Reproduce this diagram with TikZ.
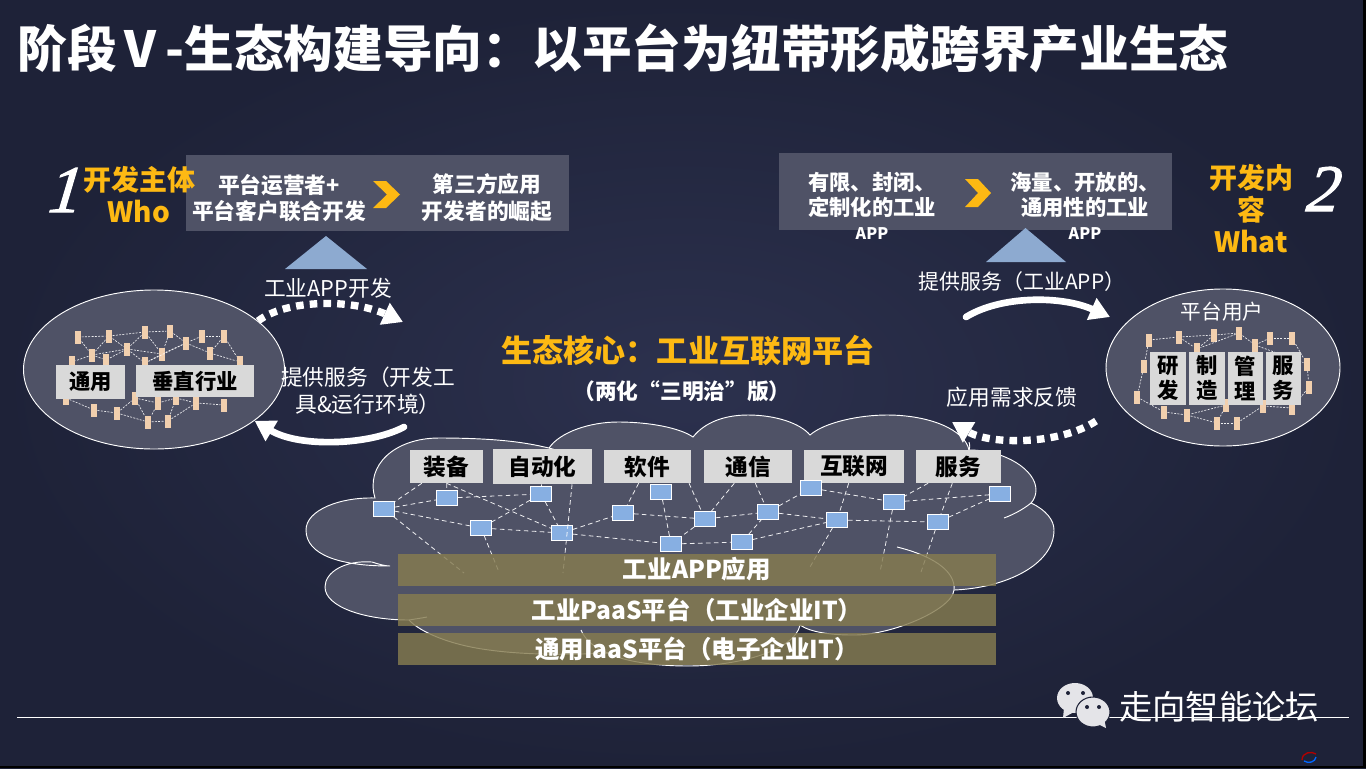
\documentclass[tikz,border=0pt]{standalone}
\usepackage{xcolor}
\usepackage{fontspec}
\usepackage{tikz}
\usetikzlibrary{arrows.meta}
\usetikzlibrary{shapes.geometric}
\newfontfamily\cjk{Noto Sans CJK SC}
\newfontfamily\numfont[ItalicFeatures={FakeBold=1.6,FakeSlant=0.12}]{Liberation Serif}
\definecolor{bgInner}{RGB}{44,49,78}
\definecolor{bgOuter}{RGB}{30,34,56}
\definecolor{panelGray}{RGB}{79,82,102}
\definecolor{labelGray}{RGB}{217,217,217}
\definecolor{goldText}{RGB}{253,185,19}
\definecolor{skyBlue}{RGB}{141,170,208}
\definecolor{routerBlue}{RGB}{135,175,226}
\definecolor{tanNode}{RGB}{241,207,174}
\definecolor{oliveBar}{RGB}{134,124,80}
\definecolor{iconGray}{RGB}{228,228,232}
\tikzset{
  bodyText/.style={inner sep=0.75pt,align=center,text=white,font=\cjk\fontsize{16.3}{20}\selectfont},
  boldText/.style={bodyText,font=\cjk\bfseries\fontsize{16.3}{20}\selectfont},
  goldHead/.style={inner sep=0.75pt,align=center,text=goldText,font=\cjk\bfseries\fontsize{21}{24}\selectfont},
  bigNumber/.style={inner sep=0pt,text=white,font=\numfont\itshape\fontsize{50}{50}\selectfont},
  panelBox/.style={draw=none,fill=panelGray,inner sep=0pt},
  grayLabel/.style={fill=labelGray,inner sep=0pt,text=black,align=center,font=\cjk\bfseries\fontsize{16}{18.75}\selectfont},
  cloudLabel/.style={grayLabel,minimum height=33*0.75pt,font=\cjk\bfseries\fontsize{17}{20}\selectfont},
  layerBar/.style={fill=oliveBar,fill opacity=0.82,text opacity=1,minimum width=598*0.75pt,minimum height=32*0.75pt,inner sep=0pt,text=white,font=\cjk\bfseries\fontsize{18.4}{20}\selectfont},
  router/.style={draw=white,line width=0.5pt,fill=routerBlue,minimum width=21*0.75pt,minimum height=15*0.75pt,inner sep=0pt},
  tanCell/.style={fill=tanNode,minimum width=6.5*0.75pt,minimum height=13*0.75pt,inner sep=0pt},
  orgDisc/.style={ellipse,draw=white,line width=0.7pt,fill=panelGray,inner sep=0pt},
  wireLink/.style={draw=white,line width=0.6pt,dash pattern={on 3.5pt off 2.5pt},opacity=0.9},
  cellLink/.style={draw=white,line width=0.5pt,dash pattern={on 1.5pt off 1pt},opacity=0.9},
  flowSolid/.style={draw=white,line width=5pt,line cap=round,-{Triangle[length=15pt,width=17pt]}},
  flowDots/.style={draw=white,line width=5.5pt,dash pattern={on 5.7pt off 4.6pt},-{Triangle[length=15pt,width=17pt]}},
}

\begin{document}
\begin{tikzpicture}[x=0.75pt,y=0.75pt,yscale=-1,xscale=1]
\useasboundingbox (0,0) rectangle (1366,768);

%Background
\shade [inner color=bgInner,outer color=bgOuter] (0,0) rectangle (1366,768);
\fill [black] (0,766) rectangle (1366,768);
\fill [black] (1363,0) rectangle (1366,768);

%Bottom Line
\draw [white,line width=0.6pt] (17,717) -- (1349,717);

%Corner Logo
\draw [red!70!black,line width=1pt] (1302,760) .. controls (1302,752) and (1312,751) .. (1316,754);
\draw [blue!60!cyan,line width=1pt] (1304,761) .. controls (1309,764) and (1315,762) .. (1316,757);

%Cloud
\draw [draw=white,line width=0.7pt,fill=panelGray]
  (390,566) .. controls (340,566) and (306,555) .. (306,530)
  .. controls (306,510) and (340,497) .. (375,498)
  .. controls (365,465) and (395,438) .. (439,438)
  .. controls (510,438) and (535,445) .. (549,448)
  .. controls (560,432) and (590,422) .. (618,422)
  .. controls (650,422) and (680,428) .. (693,437)
  .. controls (705,422) and (725,415) .. (748,415)
  .. controls (775,415) and (800,423) .. (810,435)
  .. controls (825,422) and (860,415) .. (887,415)
  .. controls (930,415) and (965,430) .. (969,450)
  .. controls (1005,450) and (1036,470) .. (1036,490)
  .. controls (1036,495) and (1034,500) .. (1031,503)
  .. controls (1046,510) and (1054,520) .. (1054,530)
  .. controls (1054,565) and (1005,588) .. (954,590)
  .. controls (952,610) and (890,636) .. (852,635)
  .. controls (830,635) and (810,632) .. (800,625)
  .. controls (795,650) and (740,666) .. (688,666)
  .. controls (650,666) and (620,660) .. (608,653)
  .. controls (570,655) and (525,655) .. (489,650)
  .. controls (450,645) and (420,632) .. (409,620)
  .. controls (365,620) and (325,607) .. (325,587)
  .. controls (325,572) and (345,560) .. (372,562)
  .. controls (378,564) and (385,566) .. (390,566) -- cycle;
\draw [white,line width=0.7pt] (1004,518) .. controls (1015,514) and (1025,508) .. (1031,503);
\draw [white,line width=0.7pt] (897,547) .. controls (930,555) and (956,570) .. (954,590);
\draw [white,line width=0.7pt] (409,620) .. controls (415,619) and (422,618) .. (427,617);
\draw [white,line width=0.7pt] (581,630) .. controls (585,640) and (595,648) .. (608,653);
\draw [white,line width=0.7pt] (549,448) .. controls (552,448) and (555,450) .. (557,452);
\draw [white,line width=0.7pt] (969,450) .. controls (970,448) and (970,446) .. (969,442);

%Cloud Labels
\node [cloudLabel,minimum width=73*0.75pt] (equip) at (446.5,466.5) {装备};
\node [cloudLabel,minimum width=99*0.75pt,minimum height=35*0.75pt] (autom) at (542.5,466.5) {自动化};
\node [cloudLabel,minimum width=87*0.75pt] (softw) at (647.5,466.5) {软件};
\node [cloudLabel,minimum width=88*0.75pt] (telec) at (748,466.5) {通信};
\node [cloudLabel,minimum width=100*0.75pt] (inet) at (854,466.5) {互联网};
\node [cloudLabel,minimum width=85*0.75pt] (servc) at (958.5,466.5) {服务};

%Routers
\node [router] (ra) at (384,509) {};
\node [router] (rb) at (447,498) {};
\node [router] (rc) at (541,494) {};
\node [router] (rd) at (481,528) {};
\node [router] (re) at (562,533) {};
\node [router] (rf) at (623,513) {};
\node [router] (rg) at (661,492) {};
\node [router] (rh) at (705,519) {};
\node [router] (ri) at (768,512) {};
\node [router] (rj) at (671,544) {};
\node [router] (rk) at (742,542) {};
\node [router] (rl) at (811,488) {};
\node [router] (rm) at (837,520) {};
\node [router] (rn) at (894,502) {};
\node [router] (ro) at (938,522) {};
\node [router] (rp) at (1000,494) {};
\coordinate (enda) at (464,573);
\coordinate (endd) at (499,572);
\coordinate (endauto) at (563,573);
\coordinate (endm) at (810,567);
\coordinate (endn) at (880,572);
\coordinate (endo) at (921,572);

%Straight Lines
\draw [wireLink] (equip) -- (ra);
\draw [wireLink] (equip) -- (rb);
\draw [wireLink] (equip.south) -- (re);
\draw [wireLink] (autom) -- (rc);
\draw [wireLink] (autom.-31) -- (endauto);
\draw [wireLink] (softw) -- (rf);
\draw [wireLink] (softw.-22) -- (rh);
\draw [wireLink] (telec) -- (rh);
\draw [wireLink] (telec) -- (ri);
\draw [wireLink] (inet) -- (rm);
\draw [wireLink] (servc) -- (rn);
\draw [wireLink] (servc) -- (ro);
\draw [wireLink] (ra) -- (rb);
\draw [wireLink] (rb) -- (rc);
\draw [wireLink] (ra) -- (rd);
\draw [wireLink] (rd) -- (re);
\draw [wireLink] (rc) -- (rd);
\draw [wireLink] (rc) -- (re);
\draw [wireLink] (re) -- (rf);
\draw [wireLink] (re) -- (rj);
\draw [wireLink] (rf) -- (rh);
\draw [wireLink] (rg) -- (rj);
\draw [wireLink] (rh) -- (ri);
\draw [wireLink] (rh) -- (rj);
\draw [wireLink] (rj) -- (rk);
\draw [wireLink] (rk) -- (ri);
\draw [wireLink] (rk) -- (rm);
\draw [wireLink] (ri) -- (rm);
\draw [wireLink] (ri) -- (rl);
\draw [wireLink] (rl) -- (rn);
\draw [wireLink] (rn) -- (rp);
\draw [wireLink] (rm) -- (ro);
\draw [wireLink] (ro) -- (rp);
\draw [wireLink] (ra) -- (enda);
\draw [wireLink] (rd) -- (endd);
\draw [wireLink] (rm) -- (endm);
\draw [wireLink] (rn) -- (endn);
\draw [wireLink] (ro) -- (endo);

%Layer Bars
\node [layerBar] (appbar) at (697,569.5) {工业APP应用};
\node [layerBar] (paasbar) at (697,610) {工业PaaS平台（工业企业IT）};
\node [layerBar] (iaasbar) at (697,649) {通用IaaS平台（电子企业IT）};

%Left Ellipse
\node [orgDisc,minimum width=261*0.75pt,minimum height=159*0.75pt] (devorg) at (154,369.5) {};
\node [tanCell] (la) at (78,337) {};
\node [tanCell] (lb) at (109,336) {};
\node [tanCell] (lc) at (145,332) {};
\node [tanCell] (ld) at (170,331) {};
\node [tanCell] (le) at (202,336) {};
\node [tanCell] (lf) at (224,336) {};
\node [tanCell] (lg) at (92,355) {};
\node [tanCell] (lh) at (127,349) {};
\node [tanCell] (li) at (162,354) {};
\node [tanCell] (lj) at (186,343) {};
\node [tanCell] (lk) at (210,353) {};
\node [tanCell] (ll) at (72,362) {};
\node [tanCell] (lm) at (106,360) {};
\node [tanCell] (ln) at (145,363) {};
\node [tanCell] (lo) at (240,362) {};
\node [tanCell] (lp) at (94,410) {};
\node [tanCell] (lq) at (117,413) {};
\node [tanCell] (lr) at (135,398) {};
\node [tanCell] (ls) at (158,403) {};
\node [tanCell] (lt) at (176,398) {};
\node [tanCell] (lu) at (196,403) {};
\node [tanCell] (lv) at (224,405) {};
\node [tanCell] (lw) at (148,422) {};
\node [tanCell] (lx) at (168,421) {};
\node [tanCell] (ly) at (66,398) {};
\draw [cellLink] (la) -- (lb);
\draw [cellLink] (lb) -- (lc);
\draw [cellLink] (lc) -- (ld);
\draw [cellLink] (ld) -- (lj);
\draw [cellLink] (le) -- (lf);
\draw [cellLink] (la) -- (lg);
\draw [cellLink] (lb) -- (lg);
\draw [cellLink] (lb) -- (lh);
\draw [cellLink] (lc) -- (lh);
\draw [cellLink] (lc) -- (li);
\draw [cellLink] (ld) -- (li);
\draw [cellLink] (lh) -- (li);
\draw [cellLink] (lg) -- (lh);
\draw [cellLink] (li) -- (lj);
\draw [cellLink] (le) -- (lj);
\draw [cellLink] (lj) -- (lk);
\draw [cellLink] (lf) -- (lk);
\draw [cellLink] (lf) -- (lo);
\draw [cellLink] (lk) -- (lo);
\draw [cellLink] (lg) -- (ll);
\draw [cellLink] (lg) -- (lm);
\draw [cellLink] (lh) -- (lm);
\draw [cellLink] (lh) -- (ln);
\draw [cellLink] (li) -- (ln);
\draw [cellLink] (lj) -- (ln);
\draw [cellLink] (ly) -- (lp);
\draw [cellLink] (lp) -- (lq);
\draw [cellLink] (lq) -- (lr);
\draw [cellLink] (lr) -- (ls);
\draw [cellLink] (ls) -- (lt);
\draw [cellLink] (lt) -- (lu);
\draw [cellLink] (lu) -- (lv);
\draw [cellLink] (lq) -- (lw);
\draw [cellLink] (lr) -- (lw);
\draw [cellLink] (ls) -- (lw);
\draw [cellLink] (lw) -- (lx);
\draw [cellLink] (lx) -- (lt);
\draw [cellLink] (lx) -- (lu);
\node [grayLabel,minimum width=69*0.75pt,minimum height=34*0.75pt] (common) at (90.5,382) {通用};
\node [grayLabel,minimum width=118*0.75pt,minimum height=32*0.75pt] (vertical) at (195,381) {垂直行业};

%Right Ellipse
\node [orgDisc,minimum width=234*0.75pt,minimum height=157*0.75pt] (userorg) at (1223,367.5) {};
\node [tanCell] (ua) at (1149,340) {};
\node [tanCell] (ub) at (1179,337) {};
\node [tanCell] (uc) at (1214,335) {};
\node [tanCell] (ud) at (1239,333) {};
\node [tanCell] (ue) at (1270,338) {};
\node [tanCell] (uf) at (1292,338) {};
\node [tanCell] (ug) at (1255,345) {};
\node [tanCell] (uh) at (1197,349) {};
\node [tanCell] (ui) at (1144,366) {};
\node [tanCell] (uj) at (1307,364) {};
\node [tanCell] (uk) at (1309,387) {};
\node [tanCell] (ul) at (1137,397) {};
\node [tanCell] (um) at (1164,412) {};
\node [tanCell] (un) at (1187,415) {};
\node [tanCell] (uo) at (1217,423) {};
\node [tanCell] (up) at (1237,423) {};
\node [tanCell] (uq) at (1226,405) {};
\node [tanCell] (ur) at (1263,406) {};
\node [tanCell] (us) at (1292,408) {};
\draw [cellLink] (ua) -- (ub);
\draw [cellLink] (ub) -- (uc);
\draw [cellLink] (uc) -- (ud);
\draw [cellLink] (ud) -- (ug);
\draw [cellLink] (ue) -- (ug);
\draw [cellLink] (ue) -- (uf);
\draw [cellLink] (ua) -- (ui);
\draw [cellLink] (ub) -- (uh);
\draw [cellLink] (uc) -- (uh);
\draw [cellLink] (ud) -- (uh);
\draw [cellLink] (uf) -- (uj);
\draw [cellLink] (ug) -- (uj);
\draw [cellLink] (uj) -- (uk);
\draw [cellLink] (ui) -- (ul);
\draw [cellLink] (ul) -- (um);
\draw [cellLink] (um) -- (un);
\draw [cellLink] (un) -- (uo);
\draw [cellLink] (uo) -- (up);
\draw [cellLink] (up) -- (ur);
\draw [cellLink] (uq) -- (un);
\draw [cellLink] (uq) -- (uo);
\draw [cellLink] (ur) -- (us);
\draw [cellLink] (uk) -- (us);
\node [grayLabel,minimum width=36*0.75pt,minimum height=53*0.75pt] (research) at (1168,378.5) {研\\发};
\node [grayLabel,minimum width=36*0.75pt,minimum height=53*0.75pt] (making) at (1207,378.5) {制\\造};
\node [grayLabel,minimum width=35*0.75pt,minimum height=53*0.75pt] (manage) at (1245.5,378.5) {管\\理};
\node [grayLabel,minimum width=35*0.75pt,minimum height=53*0.75pt] (service) at (1283.5,378.5) {服\\务};

%Top Panels
\node [panelBox,minimum width=383*0.75pt,minimum height=76*0.75pt] (whopanel) at (377.5,193) {};
\node [panelBox,minimum width=393*0.75pt,minimum height=77*0.75pt] (whatpanel) at (975.5,191.5) {};

%Triangles
\fill [skyBlue] (285,269) -- (326,236) -- (367,269) -- cycle;
\fill [skyBlue] (986,262) -- (1025.5,228) -- (1066,262) -- cycle;

%Chevrons
\fill [goldText] (373,181) -- (386,181) -- (400,194.5) -- (386,208) -- (373,208) -- (387,194.5) -- cycle;
\fill [goldText] (965,179) -- (978,179) -- (991,193) -- (978,207) -- (965,207) -- (978,193) -- cycle;

%Curve Lines
\coordinate (devend) at (403,322);
\coordinate (svcstart) at (404,427);
\coordinate (appstart) at (966,317);
\coordinate (append) at (1110,317);
\coordinate (needstart) at (1096,421);
\coordinate (needend) at (952,422);
\draw [flowDots] (devorg.25.6) .. controls (285,300) and (350,298) .. (devend);
\draw [flowSolid] (svcstart) .. controls (370,445) and (300,448) .. (devorg.-27);
\draw [flowSolid] (appstart) .. controls (1000,296) and (1060,295) .. (append);
\draw [flowDots] (needstart) .. controls (1060,445) and (990,445) .. (needend);

%WeChat Icon
\fill [iconGray] (1075,698) ellipse [x radius=18,y radius=15];
\fill [iconGray] (1064,708) -- (1063,718) -- (1074,712) -- cycle;
\draw [bgOuter,line width=0.8pt,fill=iconGray] (1093,712) ellipse [x radius=17,y radius=15];
\fill [iconGray] (1098,724) -- (1106,728) -- (1104,718) -- cycle;
\fill [bgOuter] (1068,693) circle (2);
\fill [bgOuter] (1083,693) circle (2);
\fill [bgOuter] (1087,707) circle (2);
\fill [bgOuter] (1099,707) circle (2);

% Text Node
\node [anchor=west,inner sep=0pt,text=white,font=\cjk\bfseries\fontsize{37.3}{40}\selectfont] (title) at (17,48.5) {阶段\,V\,-生态构建导向：以平台为纽带形成跨界产业生态};
% Text Node
\node [bigNumber] (numone) at (64,190) {1};
% Text Node
\node [bigNumber] (numtwo) at (1322,189) {2};
% Text Node
\node [goldHead] (whohead) at (139,195) {开发主体\\Who};
% Text Node
\node [goldHead] (whathead) at (1251,209) {开发内\\容\\What};
% Text Node
\node [boldText] (whoa) at (279,198) {平台运营者+\\平台客户联合开发};
% Text Node
\node [boldText] (whob) at (487,197.5) {第三方应用\\开发者的崛起};
% Text Node
\node [boldText,font=\cjk\bfseries\fontsize{16}{18.5}\selectfont] (whata) at (872,206) {有限、封闭、\\定制化的工业\\{\fontsize{12}{18.5}\selectfont APP}};
% Text Node
\node [boldText,font=\cjk\bfseries\fontsize{16}{18.5}\selectfont] (whatb) at (1085,206) {海量、开放的、\\通用性的工业\\{\fontsize{12}{18.5}\selectfont APP}};
% Text Node
\node [bodyText] (devtxt) at (328,288) {工业APP开发};
% Text Node
\node [bodyText] (svctxt) at (368,391) {提供服务（开发工\\具\&运行环境）};
% Text Node
\node [bodyText,font=\cjk\fontsize{15.7}{20}\selectfont] (apptxt) at (1022,282) {提供服务（工业APP）};
% Text Node
\node [bodyText] (needtxt) at (1012,397) {应用需求反馈};
% Text Node
\node [bodyText,font=\cjk\fontsize{15.5}{18}\selectfont] (usertxt) at (1222,312) {平台用户};
% Text Node
\node [goldHead,font=\cjk\bfseries\fontsize{23.3}{26}\selectfont] (corehead) at (688,351) {生态核心：工业互联网平台};
% Text Node
\node [boldText] (coresub) at (682,391) {（两化“三明治”版）};
% Text Node
\node [inner sep=0pt,text=white,font=\cjk\fontsize{25}{28}\selectfont] (forum) at (1219,707) {走向智能论坛};

\end{tikzpicture}
\end{document}
